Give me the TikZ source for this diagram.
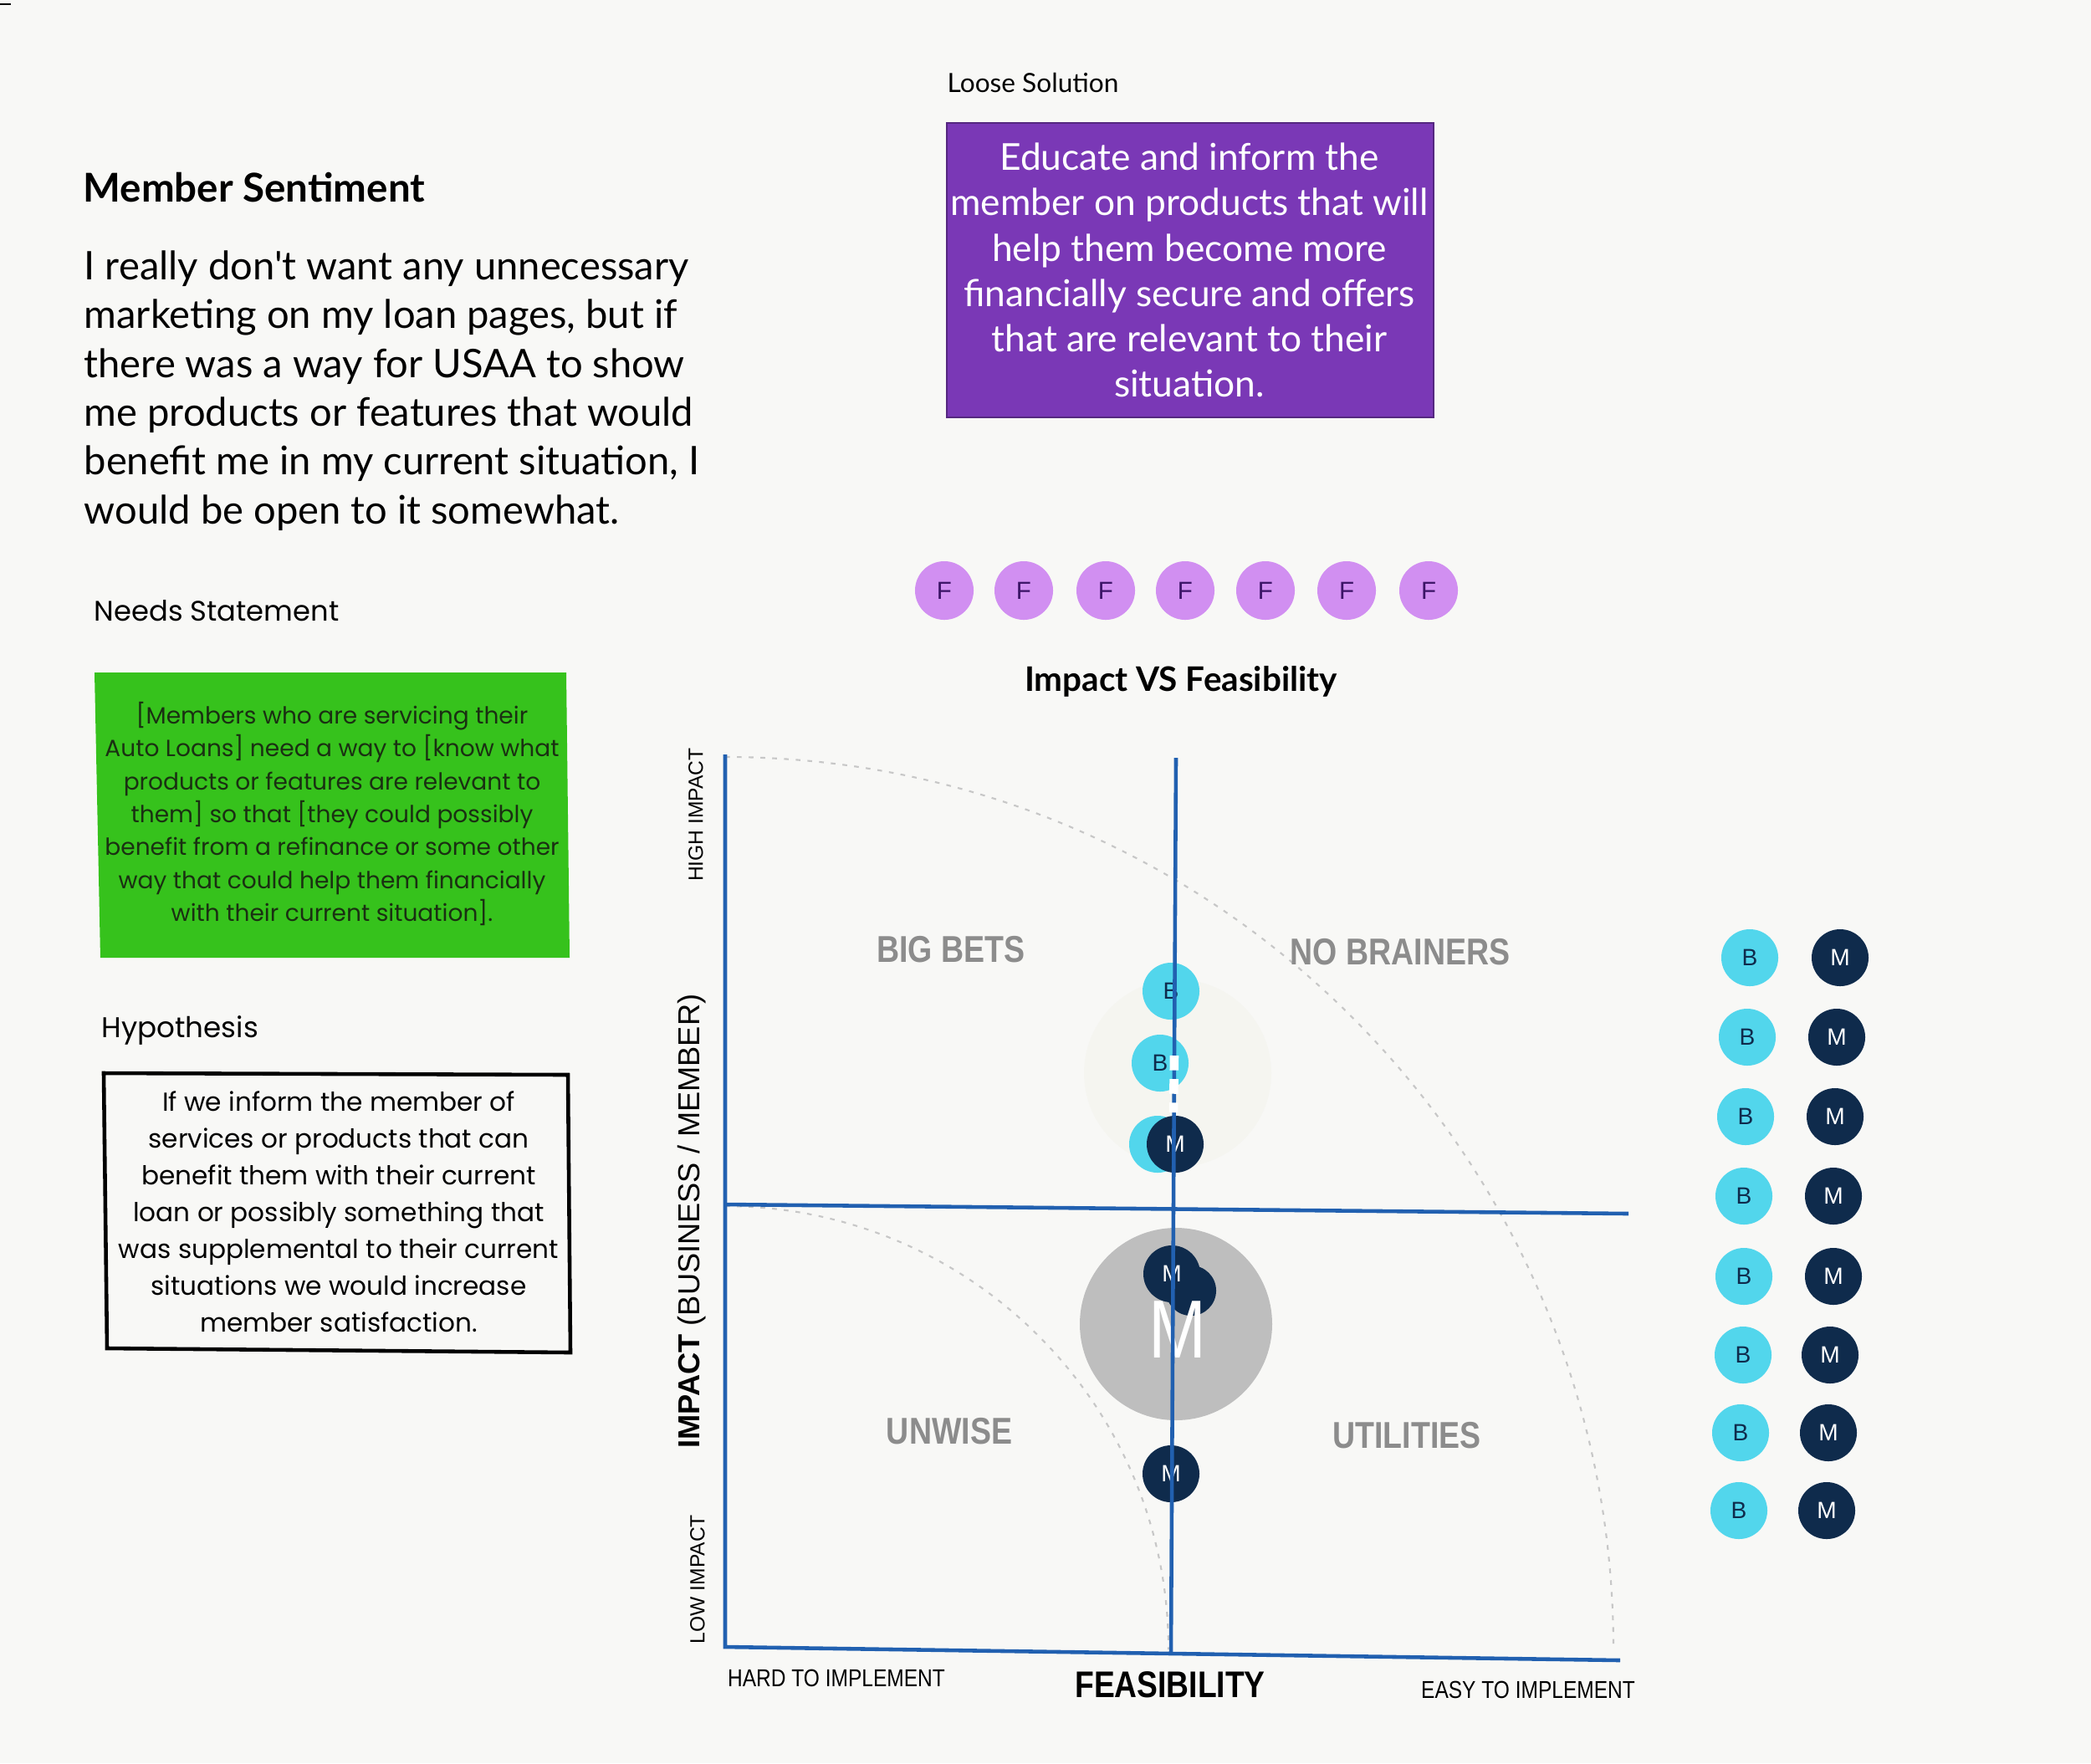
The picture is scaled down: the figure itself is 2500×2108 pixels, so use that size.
\documentclass[tikz,border=0pt]{standalone}
\usepackage{fontspec}
\usepackage{graphicx}
\setmainfont{Lato}
\newfontfamily\lato{Lato}
\newfontfamily\pop{Poppins}
\newfontfamily\helv{Liberation Sans}
\newfontfamily\helvc[FakeStretch=0.84]{Liberation Sans}
\definecolor{bgcol}{HTML}{F8F8F6}
\definecolor{purplebox}{HTML}{7A38B6}
\definecolor{greenbox}{HTML}{36C21C}
\definecolor{greentext}{HTML}{1A3012}
\definecolor{fcol}{HTML}{D18FF1}
\definecolor{fletter}{HTML}{3B1466}
\definecolor{cyanb}{HTML}{52D6EC}
\definecolor{navy}{HTML}{0F2B4C}
\definecolor{axisblue}{HTML}{2160B0}
\definecolor{quadgray}{HTML}{8C8C8C}
\definecolor{biggray}{HTML}{BEBEBE}
\definecolor{ghost}{HTML}{F5F5F0}
\begin{document}
\begin{tikzpicture}[x=0.01cm,y=-0.01cm,
  fcirc/.style={circle,fill=fcol,minimum size=0.70cm,inner sep=0pt,text=fletter,font=\helv\fontsize{8.4}{10}\selectfont},
  bcirc/.style={circle,fill=cyanb,minimum size=0.68cm,inner sep=0pt,text=navy,font=\helv\fontsize{8}{10}\selectfont},
  mcirc/.style={circle,fill=navy,minimum size=0.68cm,inner sep=0pt,text=white,font=\helv\fontsize{8}{10}\selectfont},
  quad/.style={text=quadgray,font=\helvc\bfseries\fontsize{12.7}{15}\selectfont,inner sep=0pt},
  axline/.style={draw=axisblue,line width=1.3pt},
  arcline/.style={draw=black!22,line width=0.6pt,dash pattern=on 1.6pt off 2.4pt},
  heading/.style={inner sep=0pt,anchor=west}
]
\fill[bgcol] (0,0) rectangle (2500,2108);
\useasboundingbox (0,0) rectangle (2500,2108);
\draw[black,line width=0.6pt] (0,5) -- (13,5);

% ---------- left column ----------
\node[heading,font=\lato\bfseries\fontsize{13.5}{16}\selectfont] (ms) at (99,224) {Member Sentiment};
\node[heading,align=left,font=\lato\fontsize{13.4}{16.6}\selectfont] (para) at (100,467)
 {I really don't want any unnecessary\\
  marketing on my loan pages, but if\\
  there was a way for USAA to show\\
  me products or features that would\\
  benefit me in my current situation, I\\
  would be open to it somewhat.};

\node[heading,font=\pop\fontsize{9.6}{12}\selectfont] (ns) at (112,730) {Needs Statement};
\fill[greenbox] (113,804) -- (677,804) -- (681,1145) -- (120,1145) -- cycle;
\node[align=center,inner sep=0pt,text=greentext,font=\pop\fontsize{7.98}{11.2}\selectfont] (need) at (397,973)
 {[Members who are servicing their\\
  Auto Loans] need a way to [know what\\
  products or features are relevant to\\
  them] so that [they could possibly\\
  benefit from a refinance or some other\\
  way that could help them financially\\
  with their current situation].};

\node[heading,font=\pop\fontsize{9.7}{12}\selectfont] (hl) at (121,1232) {Hypothesis};
\draw[black,line width=1.3pt] (124,1283) -- (679,1285) -- (682,1617) -- (128,1612) -- cycle;
\node[align=center,inner sep=0pt,font=\pop\fontsize{8.85}{12.5}\selectfont] (hyp) at (405,1449)
 {If we inform the member of\\
  services or products that can\\
  benefit them with their current\\
  loan or possibly something that\\
  was supplemental to their current\\
  situations we would increase\\
  member satisfaction.};

% ---------- top ----------
\node[heading,font=\lato\fontsize{9}{11}\selectfont] (ls) at (1132,99) {Loose Solution};
\fill[purplebox] (1132,147) rectangle (1714,499);
\draw[purplebox!70!black,line width=0.5pt] (1132,147) rectangle (1714,499);
\node[align=center,inner sep=0pt,text=white,font=\lato\fontsize{12.6}{15.4}\selectfont] (sol) at (1422,323)
 {Educate and inform the\\
  member on products that will\\
  help them become more\\
  financially secure and offers\\
  that are relevant to their\\
  situation.};

\foreach \i/\x in {1/1129,2/1224,3/1322,4/1417,5/1513,6/1610,7/1708}
  \node[fcirc] (f\i) at (\x,706) {F};

\node[font=\lato\bfseries\fontsize{11.5}{13}\selectfont,inner sep=0pt] (title) at (1412,815) {Impact VS Feasibility};

% ---------- chart ----------
\draw[arcline] (867,905) arc[start angle=-90,end angle=0,x radius=1062,y radius=1067];
\draw[arcline] (867,1442) arc[start angle=-90,end angle=0,radius=530];
\fill[ghost] (1408,1283) circle[radius=112];

\node[quad] (bb) at (1137,1135) {BIG BETS};
\node[quad] (nb) at (1674,1138) {NO BRAINERS};
\node[quad] (uw) at (1135,1711) {UNWISE};
\node[quad] (ut) at (1682,1716) {UTILITIES};

\node[bcirc] (cb1) at (1400,1185) {B};
\node[bcirc] (cb2) at (1387,1271) {B};
\node[bcirc] (cb3) at (1384,1368) {};
\node[mcirc] (cm1) at (1405,1368) {M};

\fill[biggray] (1406,1583) circle[radius=115];
\node[mcirc,minimum size=0.6cm] (cm3) at (1424,1543) {};
\node[mcirc] (cm2) at (1401,1523) {M};
\node[text=white,inner sep=0pt,font=\helvc\fontsize{28}{30}\selectfont] (bigm) at (1408,1590) {M};
\node[mcirc] (cm4) at (1400,1762) {M};

\coordinate (lt) at (867,902);
\coordinate (lb) at (867,1969);
\coordinate (br) at (1937,1985);
\coordinate (vt) at (1406,906);
\coordinate (vb) at (1400,1977);
\coordinate (hl1) at (867,1440);
\coordinate (hr) at (1947,1451);
\draw[axline] (lt) -- (lb) -- (br);
\draw[axline] (hl1) -- (hr);
\draw[axline] (vt) -- (vb);
\draw[white,line width=3pt,dash pattern=on 5pt off 3pt] (1404,1262) -- (1403,1330);

\node[rotate=90,inner sep=0pt,font=\helv\fontsize{7}{8}\selectfont] (hi) at (832,974) {HIGH IMPACT};
\node[rotate=90,inner sep=0pt,font=\helv\fontsize{10.3}{12}\selectfont] (imp) at (827,1460) {\textbf{IMPACT} (BUSINESS / MEMBER)};
\node[rotate=90,inner sep=0pt,font=\helv\fontsize{7}{8}\selectfont] (lo) at (834,1888) {LOW IMPACT};
\node[inner sep=0pt,font=\helvc\fontsize{8.3}{10}\selectfont] (hard) at (1000,2006) {HARD TO IMPLEMENT};
\node[inner sep=0pt,font=\helvc\bfseries\fontsize{12.6}{15}\selectfont] (feas) at (1399,2014) {FEASIBILITY};
\node[inner sep=0pt,font=\helvc\fontsize{8.3}{10}\selectfont] (easy) at (1827,2020) {EASY TO IMPLEMENT};

% ---------- right column ----------
\foreach \i/\bx/\mx/\y in {1/2092/2200/1145,2/2089/2196/1240,3/2087/2194/1335,4/2085/2192/1430,5/2085/2192/1526,6/2084/2188/1620,7/2081/2186/1713,8/2079/2184/1806}{
  \node[bcirc] (rb\i) at (\bx,\y) {B};
  \node[mcirc] (rm\i) at (\mx,\y) {M};
}
\end{tikzpicture}
\end{document}
